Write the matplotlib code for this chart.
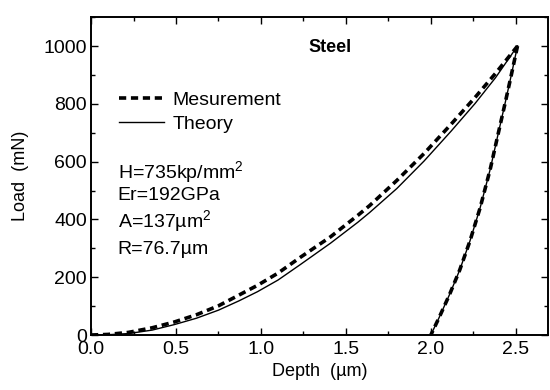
import matplotlib
matplotlib.use("Agg")
import matplotlib.pyplot as plt
from matplotlib.ticker import MultipleLocator

# Loading curve (theory)
theory_h = [0.00, 0.10, 0.22, 0.36, 0.49, 0.62, 0.75, 0.87, 0.98, 1.10, 1.23, 1.41, 1.57,
            1.64, 1.80, 1.96, 2.12, 2.26, 2.38, 2.51]
theory_p = [0, 1, 5, 17, 36, 58, 86, 118, 150, 190, 243, 318, 390,
            424, 507, 602, 706, 801, 890, 1000]
# Loading curve (measurement)
meas_h = [0.00, 0.10, 0.22, 0.36, 0.49, 0.62, 0.75, 0.87, 0.98, 1.10, 1.23, 1.41, 1.57,
          1.64, 1.80, 1.96, 2.12, 2.26, 2.38, 2.51]
meas_p = [0, 2, 9, 25, 45, 70, 101, 138, 172, 214, 268, 340, 414,
          448, 535, 628, 730, 822, 905, 1000]
# Unloading curve
unload_h = [2.51, 2.47, 2.44, 2.39, 2.35, 2.29, 2.23, 2.17, 2.11, 2.05, 2.00]
unload_p = [1000, 890, 810, 680, 575, 440, 325, 225, 140, 62, 0]

annotations = ["H=735kp/mm$^2$", "Er=192GPa", "A=137\u00b5m$^2$", "R=76.7\u00b5m"]

plt.rcParams['font.family'] = ['Liberation Sans', 'DejaVu Sans']
plt.rcParams['mathtext.fontset'] = 'custom'
plt.rcParams['mathtext.rm'] = 'Liberation Sans'

fig = plt.figure(figsize=(5.5, 3.9), dpi=100)
ax = fig.add_axes([0.1655, 0.141, 0.831, 0.815])

ax.plot(meas_h, meas_p, color='black', lw=2.6, ls=(0, (2.0, 1.3)), label='Mesurement')
ax.plot(theory_h, theory_p, color='black', lw=1.0, label='Theory')
ax.plot(unload_h, unload_p, color='black', lw=2.6, ls=(0, (2.0, 1.3)))
ax.plot(unload_h, unload_p, color='black', lw=1.0)

ax.set_xlim(0, 2.69)
ax.set_ylim(0, 1100)
ax.xaxis.set_major_locator(MultipleLocator(0.5))
ax.xaxis.set_minor_locator(MultipleLocator(0.25))
ax.yaxis.set_major_locator(MultipleLocator(200))
ax.yaxis.set_minor_locator(MultipleLocator(100))
ax.xaxis.set_major_formatter(plt.FuncFormatter(lambda v, p: f"{v:.1f}"))
ax.yaxis.set_major_formatter(plt.FuncFormatter(lambda v, p: f"{int(v)}"))
ax.tick_params(which='both', direction='in', top=True, right=True, labelsize=14, width=1.0)
ax.tick_params(which='major', length=5)
ax.tick_params(axis='x', which='major', pad=4)
ax.tick_params(axis='y', which='major', pad=3)
ax.tick_params(which='minor', length=3)
for s in ax.spines.values():
    s.set_linewidth(1.4)

ax.set_xlabel('Depth  (\u00b5m)', fontsize=13, labelpad=4)
ax.set_ylabel('Load  (mN)', fontsize=13, labelpad=10)

ax.text(0.523, 0.905, 'Steel', transform=ax.transAxes, fontsize=13, fontweight='bold',
        ha='center', va='center')

leg = ax.legend(loc='upper left', bbox_to_anchor=(0.045, 0.79), frameon=False, fontsize=14,
                handlelength=2.3, handletextpad=0.45, labelspacing=0.3, borderaxespad=0)

ys = [0.51, 0.44, 0.355, 0.27]
for t, y in zip(annotations, ys):
    ax.text(0.058, y, t, transform=ax.transAxes, fontsize=14, ha='left', va='center')

fig.savefig('out.png', dpi=100)
